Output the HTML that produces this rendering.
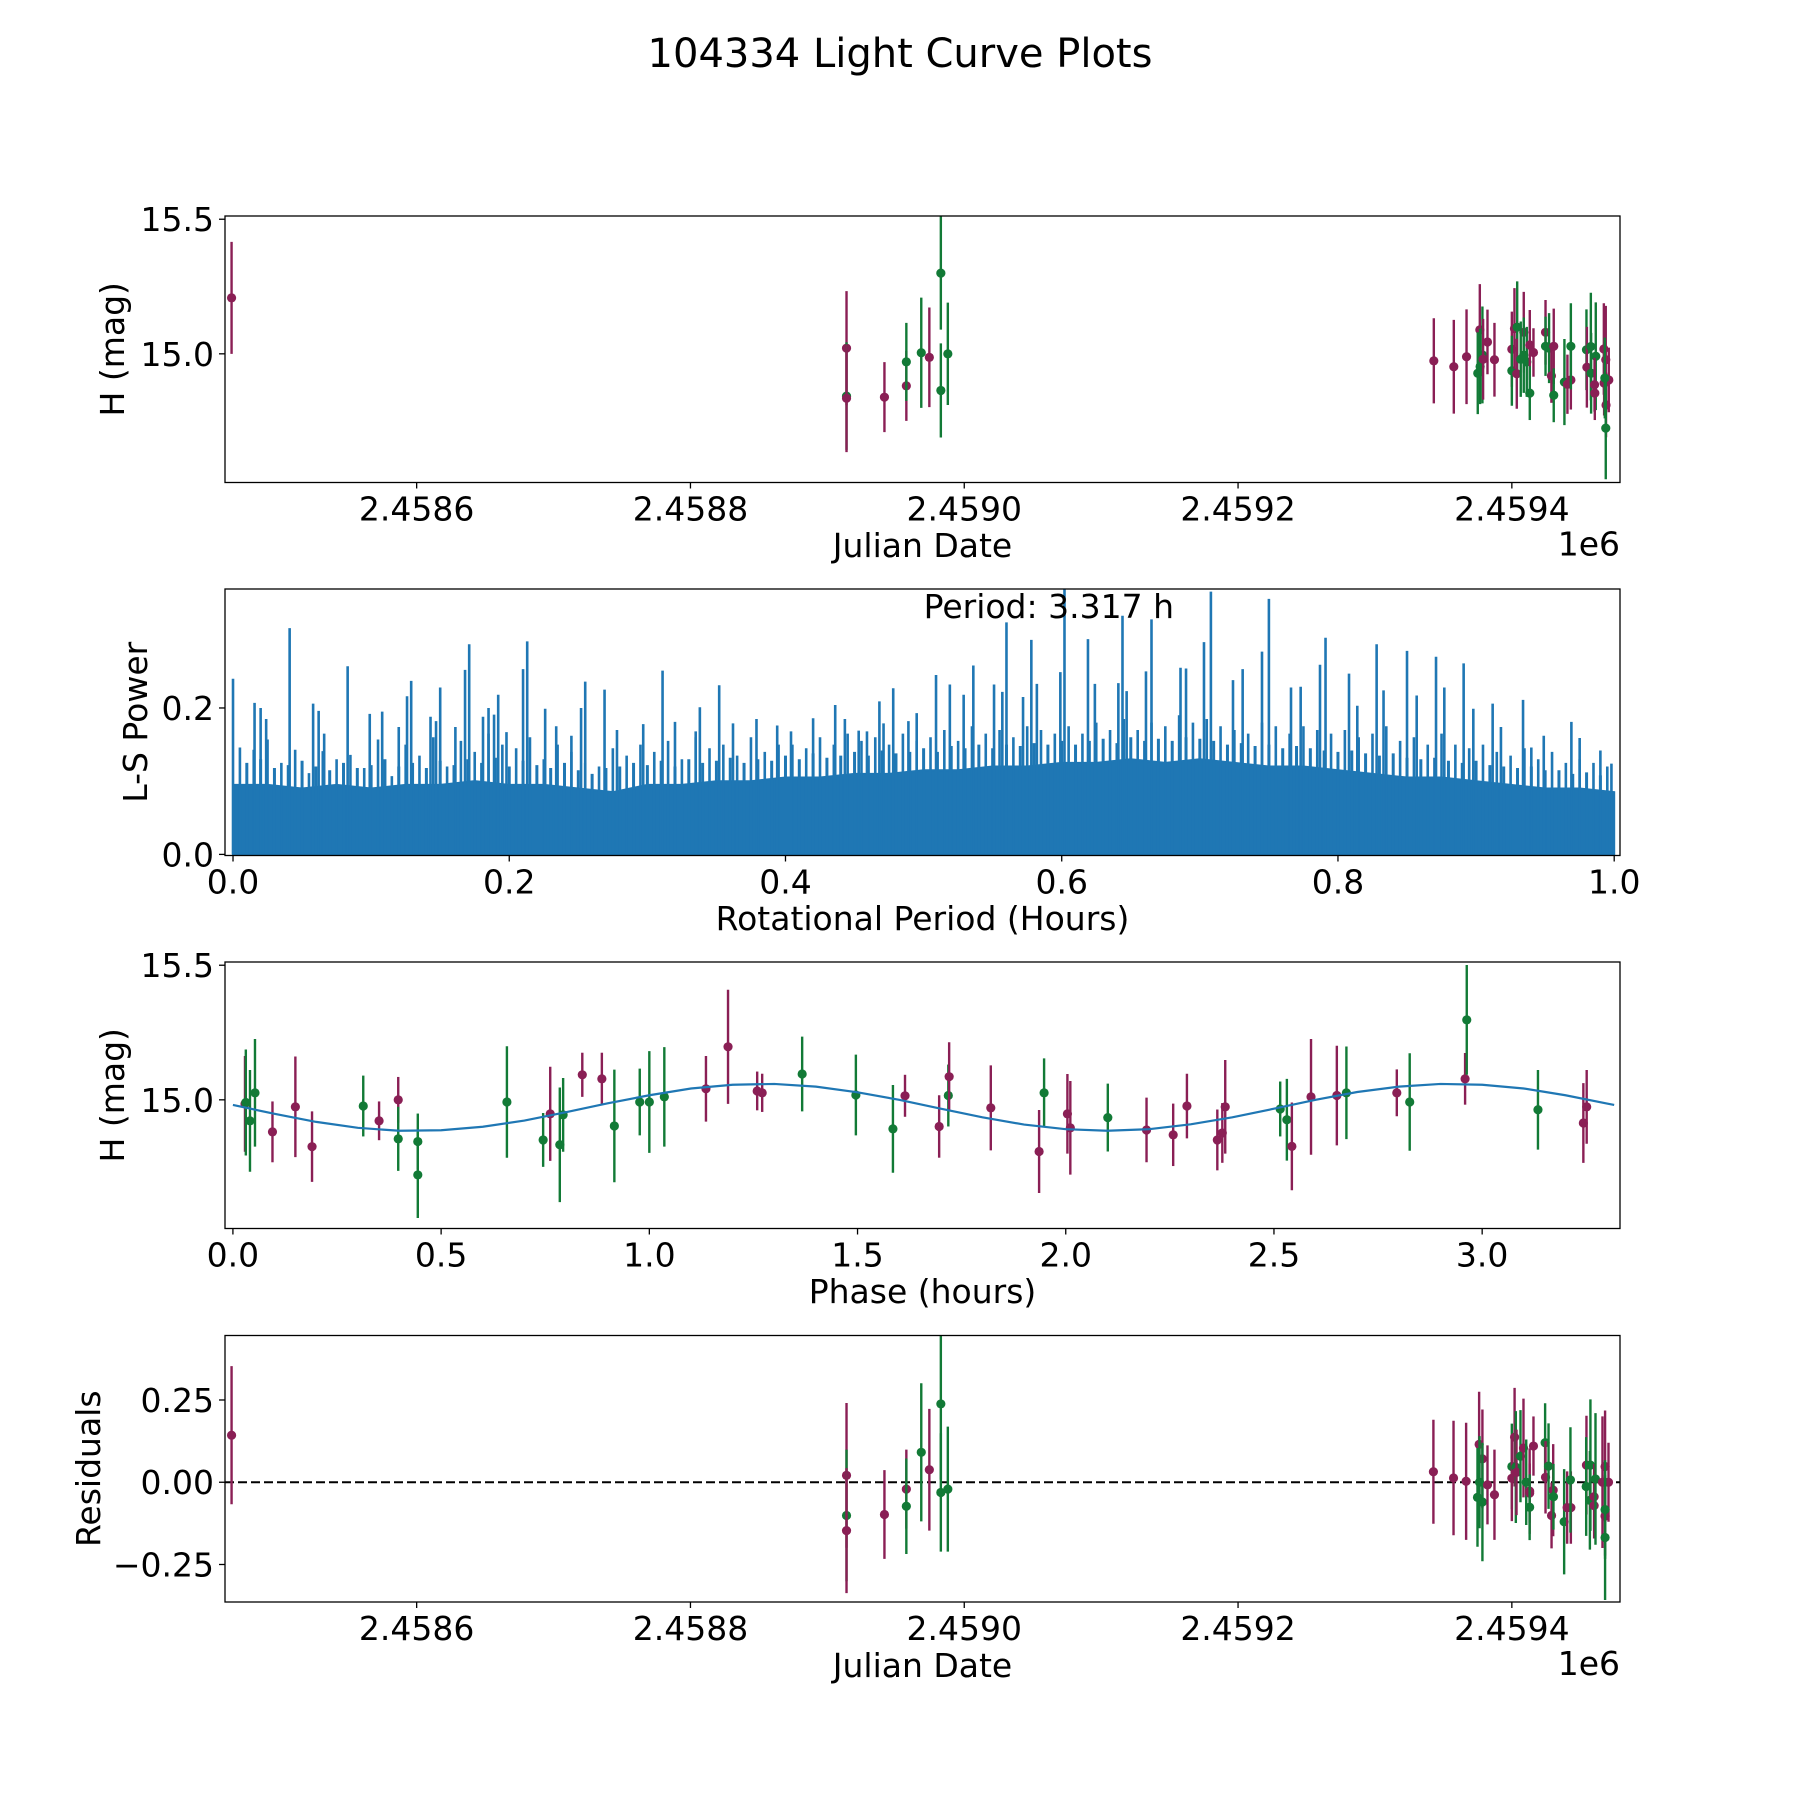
<!DOCTYPE html>
<html><head><meta charset="utf-8"><style>
html,body{margin:0;padding:0;background:#fff}
svg{display:block;font-family:"DejaVu Sans","Liberation Sans",sans-serif}
</style></head><body>
<svg id="fig" width="1800" height="1800" viewBox="0 0 1800 1800" xmlns="http://www.w3.org/2000/svg">
<rect width="1800" height="1800" fill="#fff"/>
<text x="900" y="67" font-size="40" text-anchor="middle">104334 Light Curve Plots</text>
</svg>
<script>
// ---------- data ----------
const p1Dates=[2458464.8,2458914,2458914,2458914,2458941.7,2458957.7,2458957.7,2458968.6,2458974.5,2458982.9,2458982.9,2458988,
2459343.0,2459357.6,2459366.9,2459376.6,2459375.1,2459376.8,2459378.5,2459379,2459382.2,2459387.3,2459400,2459400,2459401.9,2459403.9,2459403.6,2459408.7,2459406.5,2459408.7,2459410.9,2459413.1,2459415.8,2459413.1,2459424.6,2459424.6,2459427.2,2459430.6,2459428.9,2459430.6,2459438.4,2459440.6,2459443.1,2459443.1,2459454.5,2459454.8,2459457.7,2459457.9,2459461.3,2459460.4,2459460.6,2459467.2,2459468.6,2459467.4,2459470.8,2459468.8,2459467.9,2459468.6];
const p1Mags=[15.208,15.021,14.843,14.835,14.839,14.881,14.97,15.004,14.987,15.3,14.864,15.0,
14.974,14.952,14.989,15.089,14.928,14.953,14.996,14.98,15.044,14.978,15.017,14.937,15.094,15.099,14.926,15.08,14.98,14.995,14.97,15.033,15.005,14.854,15.08,15.028,15.021,15.028,14.918,14.846,14.895,14.887,14.903,15.028,15.015,14.95,15.027,14.928,14.991,14.885,14.854,15.018,14.978,14.891,14.903,14.81,14.91,14.724];
const p1Errs=[0.208,0.212,0.2,0.2,0.13,0.13,0.145,0.205,0.185,0.21,0.175,0.19,
0.158,0.174,0.176,0.17,0.152,0.14,0.18,0.15,0.12,0.137,0.14,0.13,0.15,0.17,0.13,0.15,0.14,0.14,0.13,0.13,0.09,0.1,0.12,0.11,0.13,0.14,0.1,0.1,0.16,0.11,0.11,0.16,0.15,0.15,0.2,0.15,0.2,0.1,0.1,0.17,0.2,0.12,0.12,0.12,0.15,0.19];
const p1Band=["m","m","g","m","m","m","g","g","m","g","g","g",
"m","m","m","m","g","g","g","m","m","m","m","g","m","g","m","m","g","g","g","m","m","g","m","g","g","m","m","g","g","m","m","g","g","m","g","g","g","m","m","m","m","m","m","m","g","g"];

const spikePeriod=[0.0,0.0156,0.020,0.024,0.041,0.058,0.062,0.066,0.083,0.099,0.108,0.120,0.126,0.129,0.143,0.147,0.150,0.161,0.168,0.171,0.181,0.185,0.189,0.192,0.198,0.210,0.213,0.226,0.234,0.245,0.252,0.255,0.269,0.278,0.297,0.311,0.320,0.335,0.338,0.352,0.362,0.379,0.394,0.404,0.420,0.436,0.443,0.453,0.459,0.468,0.471,0.478,0.489,0.495,
0.509,0.519,0.529,0.536,0.551,0.557,0.560,0.572,0.578,0.582,0.599,0.602,0.619,0.624,0.641,0.644,0.647,0.661,0.665,0.686,0.690,0.703,0.708,0.724,0.731,0.745,0.750,0.766,0.773,0.787,0.791,0.808,0.814,0.828,0.833,0.850,0.857,0.871,0.877,0.891,0.898,0.912,0.918,0.934,0.940,0.949,0.969,0.975,0.990,0.998];
const spikePower=[0.240,0.207,0.200,0.185,0.309,0.206,0.196,0.165,0.257,0.192,0.195,0.174,0.216,0.237,0.188,0.182,0.228,0.174,0.252,0.287,0.188,0.200,0.191,0.218,0.167,0.253,0.291,0.199,0.175,0.162,0.200,0.236,0.225,0.170,0.178,0.251,0.181,0.168,0.201,0.231,0.179,0.185,0.176,0.168,0.186,0.204,0.185,0.169,0.168,0.209,0.179,0.227,0.182,0.193,
0.245,0.232,0.218,0.258,0.232,0.222,0.317,0.215,0.293,0.233,0.249,0.3625,0.294,0.233,0.234,0.326,0.223,0.250,0.321,0.255,0.254,0.290,0.359,0.238,0.253,0.277,0.349,0.228,0.229,0.259,0.296,0.247,0.203,0.287,0.224,0.278,0.217,0.270,0.228,0.261,0.199,0.206,0.174,0.211,0.146,0.162,0.181,0.159,0.142,0.124];
const midPeriod=[0.005,0.015,0.025,0.035,0.045,0.055,0.065,0.075,0.085,0.095,0.105,0.115,0.125,0.135,0.145,0.155,0.165,0.175,0.185,0.195,0.205,0.215,0.225,0.235,0.245,0.255,0.265,0.275,0.285,0.295,0.305,0.315,0.325,0.335,0.345,0.355,0.365,0.375,0.385,0.395,0.405,0.415,0.425,0.435,0.445,0.455,0.465,0.475,0.485,0.495,0.505,0.515,0.525,0.535,0.545,0.555,0.565,0.575,0.585,0.595,0.605,0.615,0.625,0.635,0.645,0.655,0.665,0.675,0.685,0.695,0.705,0.715,0.725,0.735,0.745,0.755,0.765,0.775,0.785,0.795,0.805,0.815,0.825,0.835,0.845,0.855,0.865,0.875,0.885,0.895,0.905,0.915,0.925,0.935,0.945,0.955,0.965,0.975,0.985,0.995];
const midPower=[0.146,0.143,0.157,0.125,0.143,0.111,0.141,0.130,0.136,0.118,0.157,0.107,0.150,0.135,0.160,0.120,0.155,0.140,0.165,0.150,0.145,0.160,0.130,0.150,0.140,0.125,0.120,0.145,0.135,0.150,0.140,0.155,0.130,0.160,0.145,0.150,0.135,0.160,0.140,0.150,0.150,0.145,0.160,0.150,0.165,0.155,0.160,0.150,0.165,0.155,0.160,0.170,0.155,0.175,0.165,0.170,0.160,0.175,0.170,0.165,0.175,0.165,0.180,0.170,0.185,0.170,0.180,0.175,0.190,0.180,0.185,0.175,0.170,0.165,0.180,0.175,0.165,0.175,0.170,0.165,0.170,0.160,0.165,0.175,0.155,0.160,0.150,0.165,0.150,0.145,0.150,0.140,0.135,0.145,0.130,0.140,0.125,0.130,0.125,0.120];
const lowPeriod=[0.010,0.020,0.030,0.040,0.050,0.060,0.070,0.080,0.090,0.100,0.110,0.120,0.130,0.140,0.150,0.160,0.170,0.180,0.190,0.200,0.210,0.220,0.230,0.240,0.250,0.260,0.270,0.280,0.290,0.300,0.310,0.320,0.330,0.340,0.350,0.360,0.370,0.380,0.390,0.400,0.410,0.420,0.430,0.440,0.450,0.460,0.470,0.480,0.490,0.500,0.510,0.520,0.530,0.540,0.550,0.560,0.570,0.580,0.590,0.600,0.610,0.620,0.630,0.640,0.650,0.660,0.670,0.680,0.690,0.700,0.710,0.720,0.730,0.740,0.750,0.760,0.770,0.780,0.790,0.800,0.810,0.820,0.830,0.840,0.850,0.860,0.870,0.880,0.890,0.900,0.910,0.920,0.930,0.940,0.950,0.960,0.970,0.980,0.990];
const lowPower=[0.125,0.130,0.118,0.122,0.128,0.120,0.115,0.125,0.118,0.122,0.130,0.120,0.125,0.118,0.128,0.122,0.130,0.125,0.132,0.120,0.128,0.122,0.118,0.125,0.115,0.110,0.118,0.120,0.125,0.122,0.128,0.120,0.130,0.125,0.128,0.132,0.125,0.130,0.128,0.135,0.130,0.138,0.132,0.135,0.140,0.135,0.142,0.138,0.140,0.145,0.140,0.148,0.145,0.150,0.145,0.150,0.148,0.152,0.150,0.155,0.150,0.155,0.158,0.152,0.160,0.155,0.158,0.155,0.160,0.158,0.155,0.150,0.152,0.148,0.150,0.145,0.148,0.145,0.142,0.140,0.142,0.138,0.135,0.138,0.132,0.130,0.132,0.128,0.125,0.128,0.122,0.120,0.118,0.120,0.115,0.115,0.110,0.112,0.108];
const bandPeriod=[0,0.025,0.05,0.075,0.1,0.125,0.15,0.175,0.2,0.225,0.25,0.275,0.3,0.325,0.35,0.375,0.4,0.425,0.45,0.475,0.5,0.525,0.55,0.575,0.6,0.625,0.65,0.675,0.7,0.725,0.75,0.775,0.8,0.825,0.85,0.875,0.9,0.925,0.95,0.975,1.0];
const bandPower=[0.095,0.095,0.09,0.095,0.09,0.095,0.095,0.10,0.095,0.095,0.09,0.085,0.095,0.095,0.10,0.10,0.105,0.105,0.11,0.11,0.115,0.115,0.12,0.12,0.125,0.125,0.13,0.125,0.13,0.125,0.12,0.12,0.115,0.11,0.105,0.105,0.10,0.095,0.09,0.09,0.085];
const periodLabel="Period: 3.317 h";

const p3Phase=[0.029,0.031,0.041,0.053,0.095,0.15,0.19,0.313,0.351,0.397,0.397,0.444,0.444,0.658,0.745,0.762,0.785,0.793,0.839,0.886,0.916,0.977,1.0,1.036,1.136,1.189,1.259,1.271,1.367,1.496,1.585,1.614,
1.696,1.718,1.72,1.82,1.936,1.948,2.004,2.011,2.101,2.194,2.258,2.291,2.364,2.376,2.383,2.515,2.531,2.543,2.589,2.651,2.674,2.795,2.826,2.959,2.963,3.134,3.243,3.251];
const p3Mags=[14.985,14.99,14.922,15.026,14.881,14.974,14.826,14.977,14.922,15.0,14.855,14.845,14.721,14.992,14.851,14.948,14.833,14.944,15.093,15.078,14.903,14.992,14.992,15.011,15.041,15.197,15.033,15.026,15.096,15.018,14.892,15.015,
14.901,15.016,15.086,14.97,14.808,15.026,14.948,14.896,14.934,14.888,14.87,14.977,14.851,14.877,14.974,14.966,14.926,14.827,15.011,15.016,15.026,15.026,14.992,15.078,15.297,14.963,14.914,14.974];
const p3Errs=[0.178,0.197,0.189,0.2,0.113,0.187,0.131,0.113,0.072,0.085,0.119,0.104,0.16,0.207,0.1,0.175,0.213,0.137,0.082,0.097,0.209,0.124,0.189,0.185,0.122,0.212,0.072,0.071,0.139,0.15,0.163,0.078,
0.116,0.115,0.128,0.158,0.154,0.128,0.148,0.174,0.126,0.12,0.116,0.12,0.113,0.111,0.174,0.102,0.152,0.163,0.215,0.185,0.172,0.087,0.181,0.096,0.204,0.148,0.148,0.137];
const p3Band=["m","g","g","g","m","m","m","g","m","m","g","g","g","g","g","m","g","g","m","m","g","g","g","g","m","m","m","m","g","g","g","m",
"m","g","m","m","m","g","m","m","g","m","m","m","m","m","m","g","g","m","m","m","g","m","g","m","g","g","m","m"];
const curvePhase=[0,0.1,0.2,0.3,0.4,0.5,0.6,0.7,0.8,0.9,1.0,1.1,1.2,1.3,1.4,1.5,1.6,1.7,1.8,1.9,2.0,2.1,2.2,2.3,2.4,2.5,2.6,2.7,2.8,2.9,3.0,3.1,3.2,3.3,3.317];
const curveMag=[14.981,14.948,14.918,14.896,14.885,14.887,14.900,14.923,14.954,14.987,15.017,15.042,15.056,15.059,15.049,15.028,15.000,14.967,14.935,14.908,14.891,14.885,14.891,14.909,14.935,14.967,15.000,15.029,15.049,15.059,15.056,15.042,15.017,14.986,14.981];

const p4Dates=[2458464.8,2458914,2458914,2458914,2458941.7,2458957.7,2458957.7,2458968.6,2458974.5,2458982.9,2458982.9,2458988,
2459342.7,2459357.4,2459366.6,2459376.1,2459378.5,2459374.9,2459376.4,2459378.5,2459382.2,2459387.3,2459400,2459400,2459402,2459402.9,2459403.4,2459406.3,2459408.5,2459410.5,2459413,2459413,2459413,2459415.8,2459424.3,2459424.6,2459426.8,2459429,2459430.2,2459430.4,2459438.2,2459440.4,2459443.1,2459442.8,2459454.5,2459454.3,2459457.4,2459457,2459460.1,2459460.1,2459461.1,2459468.1,2459466.2,2459470.6,2459468.1,2459468.1,2459468.1];
const p4Res=[0.143,0.021,-0.101,-0.147,-0.098,-0.021,-0.073,0.091,0.038,0.238,-0.031,-0.021,
0.032,0.013,0.003,0.115,0.071,-0.046,0.0,-0.06,-0.008,-0.038,0.048,0.012,0.137,0.046,0.03,0.079,0.104,0.0,-0.027,-0.033,-0.076,0.11,0.12,0.015,0.049,-0.101,-0.024,-0.044,-0.12,-0.077,-0.077,0.007,0.052,-0.013,0.052,-0.055,-0.044,-0.071,0.01,0.048,0.0,0.0,-0.103,-0.083,-0.168];
const p4Errs=[0.21,0.22,0.2,0.19,0.135,0.12,0.145,0.21,0.185,0.23,0.18,0.19,
0.158,0.174,0.178,0.16,0.15,0.15,0.14,0.18,0.12,0.137,0.13,0.13,0.15,0.17,0.13,0.14,0.15,0.13,0.13,0.09,0.1,0.09,0.12,0.11,0.13,0.1,0.14,0.1,0.16,0.11,0.11,0.16,0.15,0.15,0.2,0.15,0.1,0.1,0.2,0.17,0.2,0.12,0.12,0.15,0.19];
const p4Band=["m","m","g","m","m","m","g","g","m","g","g","g",
"m","m","m","m","m","g","g","g","m","m","g","m","m","g","m","g","m","g","m","m","g","m","g","m","g","m","m","g","g","m","m","g","m","g","g","g","m","m","g","m","m","m","m","g","g"];

const dateTicks=[2458600,2458800,2459000,2459200,2459400];
const dateTickLabels=["2.4586","2.4588","2.4590","2.4592","2.4594"];
const magTicks=[15.0,15.5];
const magTickLabels=["15.0","15.5"];
const periodTicks=[0,0.2,0.4,0.6,0.8,1.0];
const periodTickLabels=["0.0","0.2","0.4","0.6","0.8","1.0"];
const powerTicks=[0,0.2];
const powerTickLabels=["0.0","0.2"];
const phaseTicks=[0,0.5,1,1.5,2,2.5,3];
const phaseTickLabels=["0.0","0.5","1.0","1.5","2.0","2.5","3.0"];
const resTicks=[-0.25,0,0.25];
const resTickLabels=["\u22120.25","0.00","0.25"];

// ---------- drawing ----------
const NS="http://www.w3.org/2000/svg";
const svg=document.getElementById('fig');
const COL={m:"#8a1f55",g:"#127a36"};
const FS=33;
function mk(tag,parent,attrs){const e=document.createElementNS(NS,tag);for(const k in attrs)e.setAttribute(k,attrs[k]);parent.appendChild(e);return e;}
function lin(d0,d1,r0,r1){return v=>r0+(v-d0)/(d1-d0)*(r1-r0);}

function makeAxes(id,box,xl,yl){
  const g=mk('g',svg,{});
  
  
  const cp=mk('clipPath',g,{id:id+'-clip'});
  mk('rect',cp,{x:box.x0,y:box.y0,width:box.x1-box.x0,height:box.y1-box.y0});
  const sx=lin(xl[0],xl[1],box.x0,box.x1), sy=lin(yl[0],yl[1],box.y1,box.y0);
  const plot=mk('g',g,{'clip-path':'url(#'+id+'-clip)'});
  
  
  return {g,plot,sx,sy,box};
}
function frame(ax,id){
  const b=ax.box;
  const r=mk('rect',ax.g,{x:b.x0,y:b.y0,width:b.x1-b.x0,height:b.y1-b.y0,fill:'none',stroke:'#000','stroke-width':1.3});
  
  
}
function xTicks(ax,id,ticks,labels){
  const b=ax.box;
  ticks.forEach((t,i)=>{
    const x=ax.sx(t);
    const l=mk('line',ax.g,{x1:x,x2:x,y1:b.y1,y2:b.y1+6,stroke:'#000','stroke-width':1.3});
    
    
    const tx=mk('text',ax.g,{x:x,y:b.y1+38,'font-size':FS,'text-anchor':'middle'});
    tx.textContent=labels[i];
    
    
  });
}
function yTicks(ax,id,ticks,labels){
  const b=ax.box;
  ticks.forEach((t,i)=>{
    const y=ax.sy(t);
    const l=mk('line',ax.g,{x1:b.x0-6,x2:b.x0,y1:y,y2:y,stroke:'#000','stroke-width':1.3});
    
    
    const tx=mk('text',ax.g,{x:b.x0-11,y:y+12,'font-size':FS,'text-anchor':'end'});
    tx.textContent=labels[i];
    
    
  });
}
function xLabel(ax,id,txt,y){
  const t=mk('text',ax.g,{x:(ax.box.x0+ax.box.x1)/2,y:y,'font-size':FS,'text-anchor':'middle'});
  t.textContent=txt;
  
  
}
function yLabel(ax,id,txt,x){
  const cy=(ax.box.y0+ax.box.y1)/2;
  const t=mk('text',ax.g,{x:x,y:cy,'font-size':FS,'text-anchor':'middle',transform:'rotate(-90 '+x+' '+cy+')'});
  t.textContent=txt;
  
  
}
function offsetLabel(ax,id){
  const t=mk('text',ax.g,{x:ax.box.x1,y:ax.box.y1+73,'font-size':FS,'text-anchor':'end'});
  t.textContent='1e6';
  
  
}
function errPoints(ax,id,xs,ys,es,bands){
  xs.forEach((xv,i)=>{
    const x=ax.sx(xv), c=COL[bands[i]];
    const l=mk('line',ax.plot,{x1:x,x2:x,y1:ax.sy(ys[i]+es[i]),y2:ax.sy(ys[i]-es[i]),stroke:c,'stroke-width':2.4});
    
    
    const p=mk('circle',ax.plot,{cx:x,cy:ax.sy(ys[i]),r:4.6,fill:c});
    
    
  });
}
function spikes(ax,xs,ys,w,name){
  xs.forEach((p,i)=>{
    const x=ax.sx(p);
    const l=mk('line',ax.plot,{x1:x,x2:x,y1:ax.sy(0),y2:ax.sy(ys[i]),stroke:'#1f77b4','stroke-width':w});
    
    
  });
}

const XL=[2458460,2459479], MAGL=[14.522,15.512];

// Panel 1
const a1=makeAxes('raw-lightcurve',{x0:225,x1:1620,y0:216,y1:482.5},XL,MAGL);
errPoints(a1,'raw-lightcurve',p1Dates,p1Mags,p1Errs,p1Band);
frame(a1,'raw-lightcurve');
xTicks(a1,'raw-lightcurve',dateTicks,dateTickLabels);
yTicks(a1,'raw-lightcurve',magTicks,magTickLabels);
xLabel(a1,'raw-lightcurve','Julian Date',557);
yLabel(a1,'raw-lightcurve','H (mag)',124);
offsetLabel(a1,'raw-lightcurve');

// Panel 2
const a2=makeAxes('periodogram',{x0:225,x1:1620,y0:589,y1:855.5},[-0.0058,1.0042],[-0.0015,0.3625]);
{
  let pts=bandPeriod.map((p,i)=>a2.sx(p)+','+a2.sy(bandPower[i])).join(' ');
  pts=a2.sx(bandPeriod[0])+','+a2.sy(0)+' '+pts+' '+a2.sx(bandPeriod[bandPeriod.length-1])+','+a2.sy(0);
  const poly=mk('polygon',a2.plot,{points:pts,fill:'#1f77b4',stroke:'#1f77b4','stroke-width':2});
  
  
  spikes(a2,lowPeriod,lowPower,3,'periodogram-minor-peak');
  spikes(a2,midPeriod,midPower,2.6,'periodogram-mid-peak');
  spikes(a2,spikePeriod,spikePower,2.6,'periodogram-peak');
  const t=mk('text',a2.g,{x:a2.sx(0.5),y:618,'font-size':FS});
  t.textContent=periodLabel;
  
  
}
frame(a2,'periodogram');
xTicks(a2,'periodogram',periodTicks,periodTickLabels);
yTicks(a2,'periodogram',powerTicks,powerTickLabels);
xLabel(a2,'periodogram','Rotational Period (Hours)',930);
yLabel(a2,'periodogram','L-S Power',147);

// Panel 3
const a3=makeAxes('phased-lightcurve',{x0:225,x1:1620,y0:962,y1:1228.5},[-0.019,3.331],MAGL);
errPoints(a3,'phased-lightcurve',p3Phase,p3Mags,p3Errs,p3Band);
{
  const d=curvePhase.map((p,i)=>(i?'L':'M')+a3.sx(p)+' '+a3.sy(curveMag[i])).join(' ');
  const c=mk('path',a3.plot,{d:d,fill:'none',stroke:'#1f77b4','stroke-width':2.2});
  
  
}
frame(a3,'phased-lightcurve');
xTicks(a3,'phased-lightcurve',phaseTicks,phaseTickLabels);
yTicks(a3,'phased-lightcurve',magTicks,magTickLabels);
xLabel(a3,'phased-lightcurve','Phase (hours)',1303);
yLabel(a3,'phased-lightcurve','H (mag)',124);

// Panel 4
const a4=makeAxes('residuals',{x0:225,x1:1620,y0:1335.5,y1:1602},XL,[-0.364,0.446]);
{
  const y=a4.sy(0);
  const z=mk('line',a4.plot,{x1:225,x2:1620,y1:y,y2:y,stroke:'#000','stroke-width':2,'stroke-dasharray':'9,4'});
  
  
}
errPoints(a4,'residuals',p4Dates,p4Res,p4Errs,p4Band);
frame(a4,'residuals');
xTicks(a4,'residuals',dateTicks,dateTickLabels);
yTicks(a4,'residuals',resTicks,resTickLabels);
xLabel(a4,'residuals','Julian Date',1677);
yLabel(a4,'residuals','Residuals',100);
offsetLabel(a4,'residuals');
</script>
</body></html>
